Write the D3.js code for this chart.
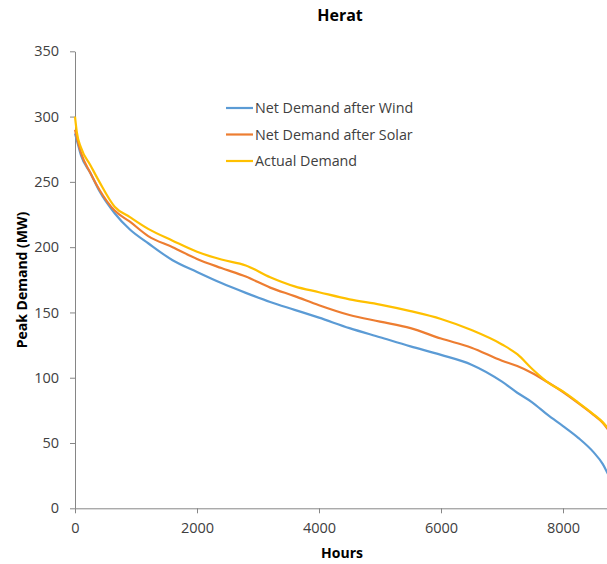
<!DOCTYPE html>
<html>
<head>
<meta charset="utf-8">
<script src="https://cdn.jsdelivr.net/npm/d3@7"></script>
<style>
  body { margin: 0; background: #fff; }
  text { font-family: "Open Sans", "Noto Sans", sans-serif; fill: #404040; }
</style>
</head>
<body>
<svg id="chart"></svg>
<script>
// Data
const hours = [0, 30, 100, 250, 400, 650, 900, 1200, 1600, 2000, 2400, 2800, 3200, 3600, 4000, 4500, 5000, 5500, 6000, 6500, 7000, 7250, 7500, 7750, 8000, 8250, 8500, 8650, 8760];
const netWind = [287, 282, 270, 257, 243, 226, 213.5, 203, 190, 181, 172.5, 165, 158, 152, 146, 138, 131, 124, 117.5, 110, 97, 88.5, 81, 71.5, 63, 54, 43, 34, 24];
const netSolar = [290, 284, 272, 257, 244, 228, 219.5, 208.5, 200, 191, 184, 177.5, 169, 162.5, 155.5, 148, 143, 138, 130, 123, 113, 109, 103.5, 96.5, 89, 80.5, 71.5, 65.5, 59];
const actual = [300, 288, 276, 263, 250, 231, 223, 214, 205, 196.5, 190.5, 186, 177, 170, 165.5, 160, 156, 151, 145, 136.5, 125.5, 118, 106.5, 96.5, 89.5, 81, 72, 66, 60];
const seriesNames = ['Net Demand after Wind', 'Net Demand after Solar', 'Actual Demand'];
const seriesColors = ['#5b9bd5', '#ed7d31', '#ffc000'];
const yTicks = [0, 50, 100, 150, 200, 250, 300, 350];
const xTicks = [0, 2000, 4000, 6000, 8000];

const width = 607;
const height = 564;
const margin = { top: 51, left: 75, bottom: 56 };

const svg = d3.select('#chart')
  .attr('width', width)
  .attr('height', height);

// Scales (x runs past the right edge, as in the original)
const x = d3.scaleLinear()
  .domain([0, 8760])
  .range([margin.left, margin.left + 8760 * 0.061]);

const y = d3.scaleLinear()
  .domain([0, 350])
  .range([508.3, 51.3]);

// Axes
const xAxis = svg.append('g')
  .attr('transform', `translate(0, ${y(0)})`)
  .call(d3.axisBottom(x).tickValues(xTicks).tickFormat(d3.format('d'))
    .tickSize(5).tickPadding(9).tickSizeOuter(0));

const yAxis = svg.append('g')
  .attr('transform', `translate(${margin.left}, 0)`)
  .call(d3.axisLeft(y).tickValues(yTicks).tickSize(5).tickPadding(11).tickSizeOuter(0));

[xAxis, yAxis].forEach(ax => {
  ax.selectAll('.domain, .tick line').attr('stroke', '#868686');
  ax.selectAll('text')
    .style('font-size', '14.5px')
    .style('font-family', '"Open Sans", sans-serif')
    .attr('fill', '#404040');
});

// Lines
const seriesData = [netWind, netSolar, actual];
const line = d3.line()
  .x((d, i) => x(hours[i]))
  .y(d => y(d))
  .curve(d3.curveMonotoneX);

seriesData.forEach((vals, k) => {
  svg.append('path')
    .datum(vals)
    .attr('fill', 'none')
    .attr('stroke', seriesColors[k])
    .attr('stroke-width', 2.2)
    .attr('stroke-linejoin', 'round')
    .attr('d', line);
});

// Legend
const legend = svg.append('g')
  .attr('transform', 'translate(226, 108)');

const items = legend.selectAll('.legend-item')
  .data(seriesNames)
  .enter()
  .append('g')
  .attr('class', 'legend-item')
  .attr('transform', (d, i) => `translate(0, ${i * 26.5})`);

items.append('line')
  .attr('x1', 0)
  .attr('x2', 27)
  .attr('stroke', (d, i) => seriesColors[i])
  .attr('stroke-width', 2.2);

items.append('text')
  .attr('x', 29)
  .attr('y', 5)
  .style('font-size', '14.3px')
  .text(d => d);

// Titles
svg.append('text')
  .attr('x', 340)
  .attr('y', 21)
  .attr('text-anchor', 'middle')
  .style('font-size', '16px')
  .style('font-weight', 'bold')
  .style('fill', '#000')
  .text('Herat');

svg.append('text')
  .attr('x', 342)
  .attr('y', 558)
  .attr('text-anchor', 'middle')
  .style('font-size', '14px')
  .style('font-weight', 'bold')
  .style('fill', '#000')
  .text('Hours');

svg.append('text')
  .attr('transform', 'rotate(-90)')
  .attr('x', -280)
  .attr('y', 27)
  .attr('text-anchor', 'middle')
  .style('font-size', '14px')
  .style('font-weight', 'bold')
  .style('fill', '#000')
  .text('Peak Demand (MW)');
</script>
</body>
</html>
